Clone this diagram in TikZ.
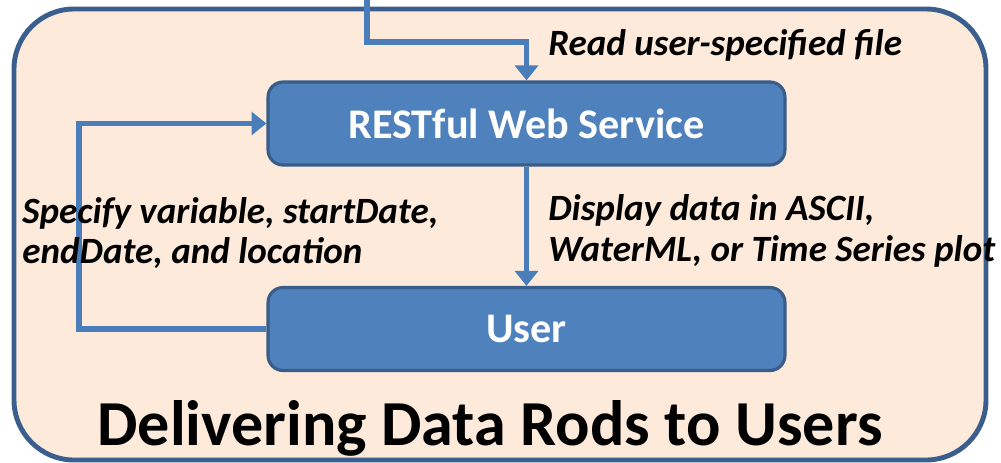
\documentclass[tikz,border=0pt]{standalone}
\usepackage{fontspec}
\setmainfont{Carlito}
\usetikzlibrary{arrows.meta}
\definecolor{panelfill}{HTML}{FDEADA}
\definecolor{paneledge}{HTML}{3A5F8E}
\definecolor{boxfill}{HTML}{4F81BD}
\definecolor{boxedge}{HTML}{385D8A}
\definecolor{flow}{HTML}{4A7EBB}
\tikzset{
    box/.style={draw=boxedge, fill=boxfill, line width=1.8pt, rounded corners=0.3cm,
        minimum width=10.34cm, minimum height=1.66cm, text=white,
        font=\bfseries\fontsize{24}{28}\selectfont},
    flowline/.style={draw=flow, line width=3.4pt, -{Triangle[width=13pt,length=8.5pt]}},
    caption/.style={font=\bfseries\itshape\fontsize{21.1}{23}\selectfont, align=left, inner sep=0pt}
}

\begin{document}
\begin{tikzpicture}[x=0.02cm, y=-0.02cm]
        \useasboundingbox (0,0) rectangle (1001,463);
        % panel behind the service and the user
        \draw[draw=paneledge, fill=panelfill, line width=2.8pt, rounded corners=1.2cm]
                (14,9) rectangle (986,460);
        \node (rest) [box] at (526.5,123.5) {RESTful Web Service};
        \node (user) [box] at (526.5,329) {User};
        \coordinate (src) at (367,-5);
        \coordinate (c1) at (367,42);
        \coordinate (c2) at (rest.north |- c1);
        \coordinate (l1) at (79,0 |- user.west);
        \coordinate (l2) at (79,0 |- rest.west);
        \draw[flowline] (src) -- (c1) -- (c2) -- (rest.north);
        \draw[flowline] (rest.south) -- (user.north);
        \draw[flowline] (user.west) -- (l1) -- (l2) -- (rest.west);
        \node (read) [caption, anchor=west] at (548,45) {Read user-specified file};
        \node (spec) [caption, anchor=west] at (22,233) {Specify variable, startDate,\\endDate, and location};
        \node (disp) [caption, anchor=west] at (548,231) {Display data in ASCII,\\WaterML, or Time Series plot};
        \node (title) [inner sep=0pt, font=\bfseries\fontsize{36.5}{40}\selectfont] at (490,428) {Delivering Data Rods to Users};
\end{tikzpicture}
\end{document}
